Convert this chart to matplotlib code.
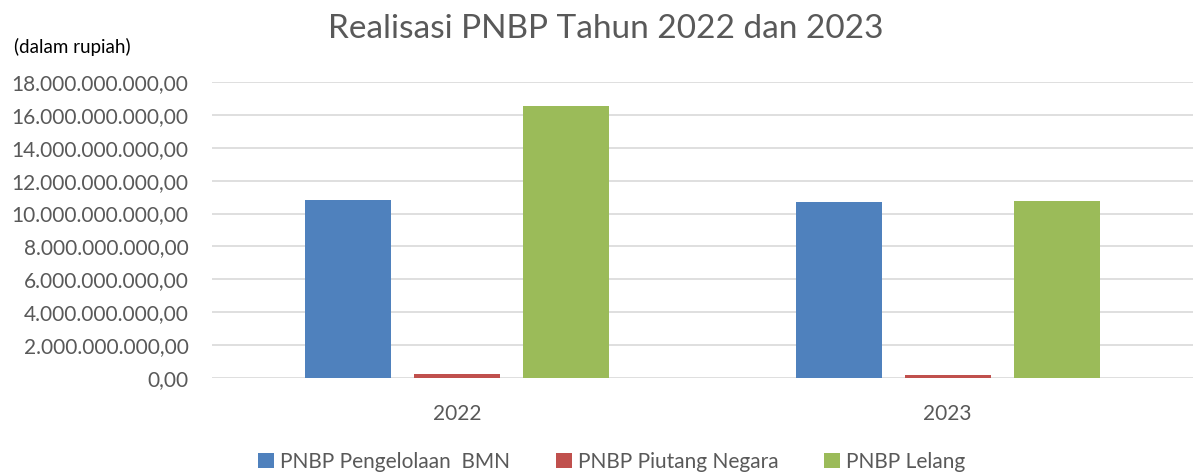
import matplotlib
matplotlib.use("Agg")
import matplotlib.pyplot as plt
from matplotlib.ticker import FuncFormatter, MultipleLocator
from matplotlib.patches import Patch
import numpy as np

plt.rcParams['font.family'] = ['Lato', 'DejaVu Sans']

years = ["2022", "2023"]
series_names = ["PNBP Pengelolaan  BMN", "PNBP Piutang Negara", "PNBP Lelang"]
pengelolaan_bmn = [10.82e9, 10.68e9]
piutang_negara = [0.24e9, 0.16e9]
lelang = [16.55e9, 10.78e9]
colors = ["#4F81BD", "#C0504D", "#9BBB59"]

W, H = 1197, 472
fig = plt.figure(figsize=(W / 100, H / 100), dpi=100)
ax = fig.add_axes([212 / W, (H - 378) / H, 981 / W, (378 - 82) / H])

x = np.arange(len(years))
width = 0.1755
step = 0.2224
for i, (vals, col, name) in enumerate(zip([pengelolaan_bmn, piutang_negara, lelang], colors, series_names)):
    ax.bar(x + (i - 1) * step, vals, width=width, color=col, label=name, zorder=3)

ax.set_xlim(-0.5, 1.5)
ax.set_ylim(0, 18e9)
ax.yaxis.set_major_locator(MultipleLocator(2e9))

def fmt(v, pos):
    s = f"{v:,.2f}"
    return s.replace(",", "X").replace(".", ",").replace("X", ".")

ax.yaxis.set_major_formatter(FuncFormatter(fmt))
ax.set_xticks(x)
ax.set_xticklabels(years)
txtc = "#595959"
ax.tick_params(axis="both", length=0, colors=txtc, labelsize=15)
ax.tick_params(axis="y", pad=17)
ax.tick_params(axis="x", pad=19)
for s in ax.spines.values():
    s.set_visible(False)
ax.grid(axis="y", color="#D9D9D9", linewidth=1.2, zorder=0)
ax.set_axisbelow(True)

fig.text(606 / W, 1 - 29 / H, "Realisasi PNBP Tahun 2022 dan 2023", ha="center", va="center",
         fontsize=24, color=txtc)
fig.text(14 / W, 1 - 47 / H, "(dalam rupiah)", ha="left", va="center", fontsize=13.5, color="black")

handles = [Patch(facecolor=c, edgecolor="none") for c in colors]
fig.legend(handles, series_names, loc="center", bbox_to_anchor=(612 / W, 1 - 462 / H), ncol=3,
           frameon=False, fontsize=15, labelcolor=txtc, handlelength=0.75, handleheight=0.75,
           handletextpad=0.3, columnspacing=2.2)

fig.savefig("out.png", dpi=100)
